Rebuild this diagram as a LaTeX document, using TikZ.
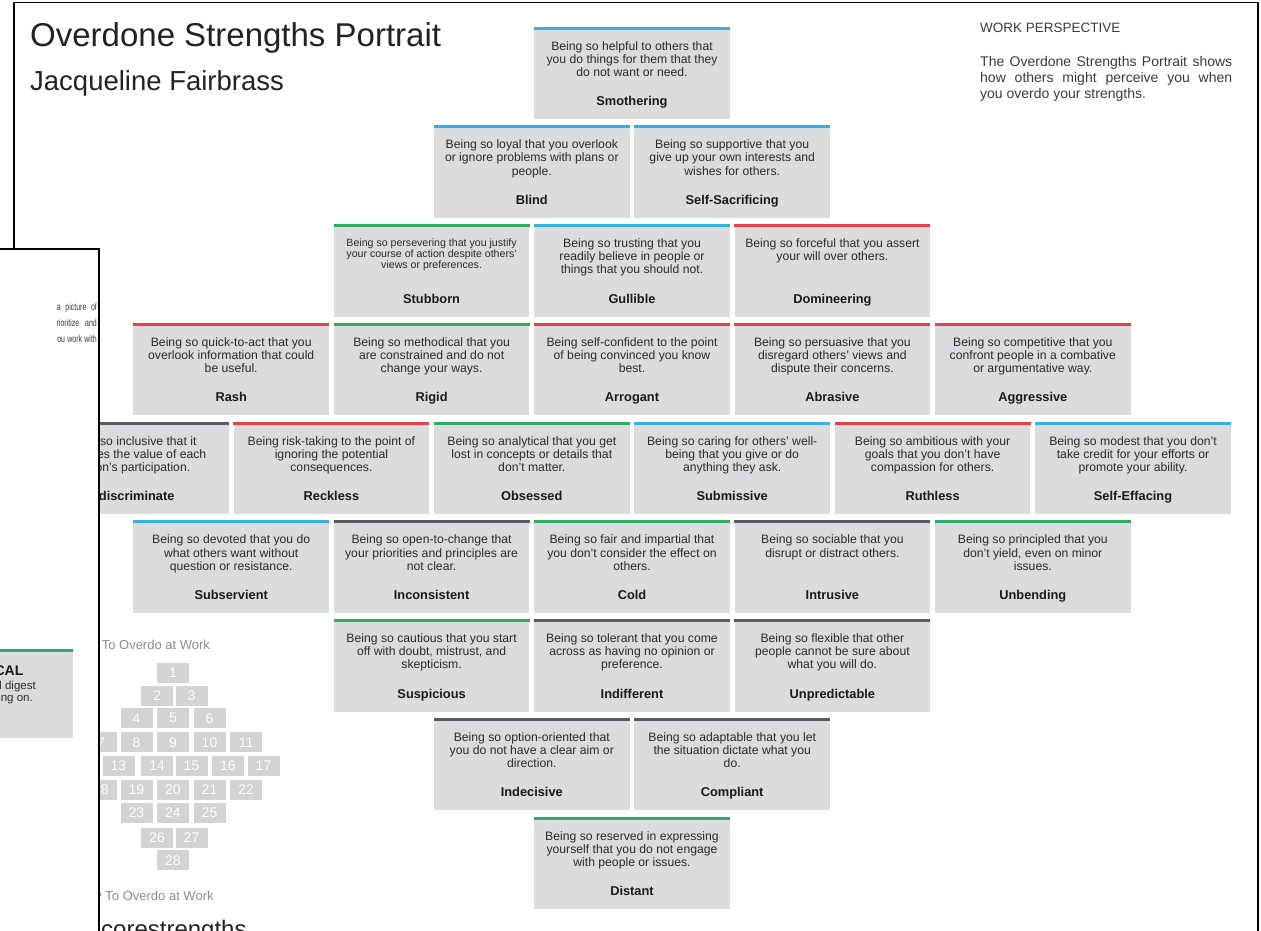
\documentclass[tikz,border=0pt]{standalone}
\usepackage{fontspec}
\setmainfont{Liberation Sans}
\definecolor{cardgray}{HTML}{DCDCDE}
\definecolor{cblue}{HTML}{35B0E5}
\definecolor{cgreen}{HTML}{2EAB62}
\definecolor{cred}{HTML}{E8414B}
\definecolor{cdark}{HTML}{5A5A5E}
\definecolor{desccol}{HTML}{2B2B2B}
\definecolor{ttlcol}{HTML}{1A1A1A}
\definecolor{minigray}{HTML}{D3D3D5}
\definecolor{softgray}{HTML}{8C8C8C}
\definecolor{headcol}{HTML}{222222}
\definecolor{bodycol}{HTML}{3A3A3A}
\tikzset{
  cardbox/.style={rectangle, fill=cardgray, inner sep=0pt, minimum width=195.5pt, minimum height=92.5pt, anchor=north},
  desc/.style={align=center, inner sep=0pt, text=desccol, font=\fontsize{12.2pt}{13.2pt}\selectfont, anchor=north},
  ttl/.style={inner sep=0pt, text=ttlcol, font=\bfseries\fontsize{12.8pt}{14pt}\selectfont, anchor=base},
  minibox/.style={rectangle, fill=minigray, minimum width=32pt, minimum height=20pt, inner sep=0pt, text=white, font=\fontsize{14pt}{14pt}\selectfont, anchor=north west},
  pageframe/.style={line width=1.8pt, black},
  bodytext/.style={inner sep=0pt, text=bodycol, font=\fontsize{14pt}{16pt}\selectfont},
  smalltext/.style={inner sep=0pt, text=bodycol, font=\fontsize{10pt}{12pt}\selectfont, anchor=base east, xscale=0.7},
  softtext/.style={inner sep=0pt, text=softgray, font=\fontsize{13pt}{13pt}\selectfont, anchor=base west},
}
\newcommand\card[7][]{%
  \pgfmathsetmacro\cardx{632+100.2*(#3)}%
  \pgfmathsetmacro\cardy{26.5+98.75*(#4)}%
  \node[cardbox] (#2) at (\cardx,\cardy) {};
  \fill[#5] (#2.north west) rectangle ([yshift=-3pt]#2.north east);
  \node[desc,#1] (#2-d) at ([yshift=-14.5pt]#2.north) {#6};
  \node[ttl] (#2-t) at ([yshift=-79pt]#2.north) {#7};
}
\begin{document}
\begin{tikzpicture}[x=1pt,y=-1pt]
\useasboundingbox (0,0) rectangle (1261,930);
% main page frame
\draw[pageframe] (14,933) -- (14,2.5) -- (1258,2.5) -- (1258,933);
% heading
\node[anchor=base west, inner sep=0pt, text=headcol, font=\fontsize{33pt}{33pt}\selectfont] (title) at (30,46) {Overdone Strengths Portrait};
\node[anchor=base west, inner sep=0pt, text=headcol, font=\fontsize{27.5pt}{28pt}\selectfont] (person) at (30,90) {Jacqueline Fairbrass};
\node[bodytext, anchor=base west, font=\fontsize{13.5pt}{16pt}\selectfont] (persp) at (980,32) {WORK PERSPECTIVE};
\node[bodytext, anchor=north west, align=left] (intro) at (980,55.8) {\makebox[252pt][s]{The Overdone Strengths Portrait shows}\\\makebox[252pt][s]{how others might perceive you when}\\you overdo your strengths.};
% cards
\card{smothering}{0}{0}{cblue}{Being so helpful to others that\\you do things for them that they\\do not want or need.}{Smothering}
\card{blind}{-1}{1}{cblue}{Being so loyal that you overlook\\or ignore problems with plans or\\people.}{Blind}
\card{selfsac}{1}{1}{cblue}{Being so supportive that you\\give up your own interests and\\wishes for others.}{Self-Sacrificing}
\card[font=\fontsize{10.6pt}{11.2pt}\selectfont]{stubborn}{-2}{2}{cgreen}{Being so persevering that you justify\\your course of action despite others'\\views or preferences.}{Stubborn}
\card{gullible}{0}{2}{cblue}{Being so trusting that you\\readily believe in people or\\things that you should not.}{Gullible}
\card{domineering}{2}{2}{cred}{Being so forceful that you assert\\your will over others.}{Domineering}
\card{rash}{-4}{3}{cred}{Being so quick-to-act that you\\overlook information that could\\be useful.}{Rash}
\card{rigid}{-2}{3}{cgreen}{Being so methodical that you\\are constrained and do not\\change your ways.}{Rigid}
\card{arrogant}{0}{3}{cred}{Being self-confident to the point\\of being convinced you know\\best.}{Arrogant}
\card{abrasive}{2}{3}{cred}{Being so persuasive that you\\disregard others' views and\\dispute their concerns.}{Abrasive}
\card{aggressive}{4}{3}{cred}{Being so competitive that you\\confront people in a combative\\or argumentative way.}{Aggressive}
\card{indiscriminate}{-5}{4}{cdark}{Being so inclusive that it\\minimizes the value of each\\person's participation.}{Indiscriminate}
\card{reckless}{-3}{4}{cred}{Being risk-taking to the point of\\ignoring the potential\\consequences.}{Reckless}
\card{obsessed}{-1}{4}{cgreen}{Being so analytical that you get\\lost in concepts or details that\\don't matter.}{Obsessed}
\card{submissive}{1}{4}{cblue}{Being so caring for others' well-\\being that you give or do\\anything they ask.}{Submissive}
\card{ruthless}{3}{4}{cred}{Being so ambitious with your\\goals that you don't have\\compassion for others.}{Ruthless}
\card{selfeff}{5}{4}{cblue}{Being so modest that you don't\\take credit for your efforts or\\promote your ability.}{Self-Effacing}
\card{subservient}{-4}{5}{cblue}{Being so devoted that you do\\what others want without\\question or resistance.}{Subservient}
\card{inconsistent}{-2}{5}{cdark}{Being so open-to-change that\\your priorities and principles are\\not clear.}{Inconsistent}
\card{cold}{0}{5}{cgreen}{Being so fair and impartial that\\you don't consider the effect on\\others.}{Cold}
\card{intrusive}{2}{5}{cdark}{Being so sociable that you\\disrupt or distract others.}{Intrusive}
\card{unbending}{4}{5}{cgreen}{Being so principled that you\\don't yield, even on minor\\issues.}{Unbending}
\card{suspicious}{-2}{6}{cgreen}{Being so cautious that you start\\off with doubt, mistrust, and\\skepticism.}{Suspicious}
\card{indifferent}{0}{6}{cdark}{Being so tolerant that you come\\across as having no opinion or\\preference.}{Indifferent}
\card{unpredictable}{2}{6}{cdark}{Being so flexible that other\\people cannot be sure about\\what you will do.}{Unpredictable}
\card{indecisive}{-1}{7}{cdark}{Being so option-oriented that\\you do not have a clear aim or\\direction.}{Indecisive}
\card{compliant}{1}{7}{cdark}{Being so adaptable that you let\\the situation dictate what you\\do.}{Compliant}
\card{distant}{0}{8}{cgreen}{Being so reserved in expressing\\yourself that you do not engage\\with people or issues.}{Distant}
% mini grid
\node[softtext] (mostlbl) at (33,649.5) {Most Likely To Overdo at Work};
\node[minibox] (m1) at (156.7,662.3) {1};
\node[minibox] (m2) at (141,685.3) {2};
\node[minibox] (m3) at (175.3,685.3) {3};
\node[minibox] (m4) at (120.3,708) {4};
\node[minibox] (m5) at (156.7,708) {5};
\node[minibox] (m6) at (193.3,708) {6};
\node[minibox] (m7) at (84.7,732) {7};
\node[minibox] (m8) at (120.3,732) {8};
\node[minibox] (m9) at (156.7,732) {9};
\node[minibox] (m10) at (193.3,732) {10};
\node[minibox] (m11) at (230,732) {11};
\node[minibox] (m13) at (102.3,755.3) {13};
\node[minibox] (m14) at (141,755.3) {14};
\node[minibox] (m15) at (175.3,755.3) {15};
\node[minibox] (m16) at (211.7,755.3) {16};
\node[minibox] (m17) at (247.3,755.3) {17};
\node[minibox] (m18) at (84.7,779.3) {18};
\node[minibox] (m19) at (120.3,779.3) {19};
\node[minibox] (m20) at (156.7,779.3) {20};
\node[minibox] (m21) at (193.3,779.3) {21};
\node[minibox] (m22) at (230,779.3) {22};
\node[minibox] (m23) at (120.3,802.7) {23};
\node[minibox] (m24) at (156.7,802.7) {24};
\node[minibox] (m25) at (193.3,802.7) {25};
\node[minibox] (m26) at (141,827.3) {26};
\node[minibox] (m27) at (175.3,827.3) {27};
\node[minibox] (m28) at (156.7,850) {28};
\node[softtext] (leastlbl) at (33,900.5) {Least Likely To Overdo at Work};
\node[anchor=base west, inner sep=0pt, text=headcol, font=\fontsize{24pt}{24pt}\selectfont] (logo) at (101,937) {corestrengths};
% page lying on top, left
\fill[white] (-3,249) rectangle (99,933);
\draw[pageframe] (-3,249) -- (99,249) -- (99,933);
\begin{scope}
  \clip (57,290) rectangle (98,350);
  \node[smalltext] (bp1) at (97,310) {\makebox[57pt][s]{a picture of}};
  \node[smalltext] (bp2) at (97,326) {\makebox[63pt][s]{prioritize and}};
  \node[smalltext] (bp3) at (97,342) {\makebox[61.5pt][s]{you work with}};
\end{scope}
\node[rectangle, fill=cardgray, inner sep=0pt, anchor=north east, minimum width=80pt, minimum height=88pt] (calbox) at (73.3,649.3) {};
\fill[cgreen] (calbox.north west) rectangle ([yshift=-3pt]calbox.north east);
\node[anchor=base east, inner sep=0pt, text=ttlcol, font=\bfseries\fontsize{14pt}{14pt}\selectfont] (caltitle) at (23.5,675.5) {ANALYTICAL};
\node[anchor=base east, inner sep=0pt, text=desccol, font=\fontsize{11.5pt}{12pt}\selectfont] (calline1) at (36,689.5) {to understand and digest};
\node[anchor=base east, inner sep=0pt, text=desccol, font=\fontsize{11.5pt}{12pt}\selectfont] (calline2) at (33,701.5) {what's going on.};
\end{tikzpicture}
\end{document}
